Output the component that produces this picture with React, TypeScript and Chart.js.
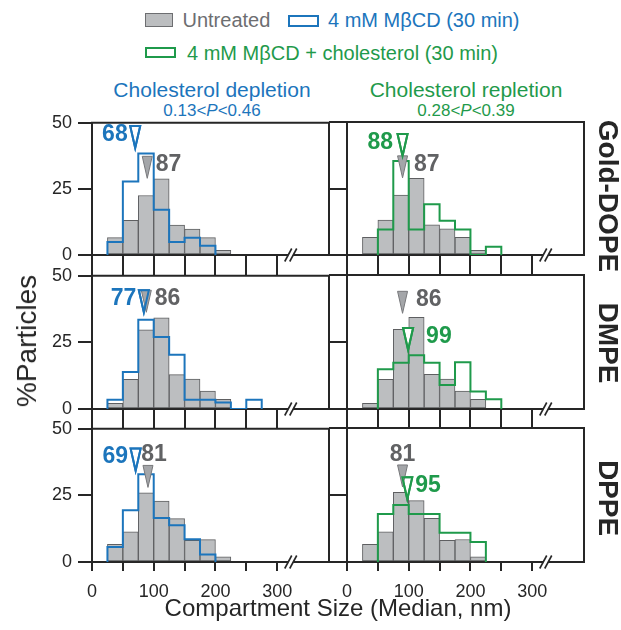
import React, { useEffect, useRef } from 'react';
import { Chart, registerables } from 'chart.js';

Chart.register(...registerables);

const FONT = "'Liberation Sans', Arial, Helvetica, sans-serif";
const AXIS = '#262626';
const GRAY_FILL = '#bcbec0';
const GRAY_EDGE = '#5e5f61';
const GRAY_TRI = '#a4a6a9';
const GRAY_TEXT = '#616264';
const BLUE = '#1c75bc';
const GREEN = '#1f9a4b';

// ---------- data ----------
const BIN = 25;
const binStarts = [25, 50, 75, 100, 125, 150, 175, 200, 225, 250];
const xTicks = [0, 50, 100, 150, 200, 250, 300];
const yTicks = [0, 25, 50];
const X_MAX = 384;
const BREAK_AT = 322;

const rowNames = ['Gold-DOPE', 'DMPE', 'DPPE'];
const colTitles = ['Cholesterol depletion', 'Cholesterol repletion'];
const colPLow = ['0.13', '0.28'];
const colPHigh = ['0.46', '0.39'];

// % particles per 25 nm bin (25-50, 50-75, ... 250-275)
const goldUntreated = [6.6, 13.1, 22.5, 28.8, 11.3, 9.8, 6.6, 1.8, 0, 0];
const goldDepleted = [4.9, 27.8, 38.4, 17.1, 4.9, 6.5, 3.5, 0, 0, 0];
const goldRepleted = [0, 9.6, 35.3, 9.6, 19.1, 12.9, 9.6, 0, 3.1, 0];

const dmpeUntreated = [2.1, 11.1, 29.7, 34.2, 12.9, 11.2, 6.7, 3.6, 0, 0];
const dmpeDepleted = [3.5, 13.9, 33.5, 27.0, 20.4, 3.5, 3.5, 2.4, 0, 3.5];
const dmpeRepleted = [0, 14.8, 17.3, 20.1, 17.3, 9.0, 17.4, 6.5, 3.6, 0];

const dppeUntreated = [6.6, 11.3, 26.0, 22.9, 16.3, 8.1, 8.4, 1.9, 0, 0];
const dppeDepleted = [5.6, 19.4, 32.9, 16.5, 13.8, 8.5, 2.8, 0, 0, 0];
const dppeRepleted = [0, 17.9, 21.3, 17.9, 17.9, 10.9, 10.9, 7.5, 0, 0];

// median values (nm) printed by the arrows
const medianUntreated = [87, 86, 81];
const medianDepleted = [68, 77, 69];
const medianRepleted = [88, 99, 95];

// arrow placement as drawn in the figure: [x (nm), tip height (%)]
const arrowUntreatedLeft = [[89.5, 29], [88, 36.3], [90.7, 28]];
const arrowUntreatedRight = [[90, 29], [90, 35.7], [90, 28]];
const arrowDepleted = [[70, 40.5], [84, 36.3], [70.7, 34.3]];
const arrowRepleted = [[90, 37.2], [99, 22], [97.7, 23.4]];

const untreatedRows = [goldUntreated, dmpeUntreated, dppeUntreated];
const depletedRows = [goldDepleted, dmpeDepleted, dppeDepleted];
const repletedRows = [goldRepleted, dmpeRepleted, dppeRepleted];

// label layout: [side, gap/dx] for [untreated, treated]
const labelLayoutLeft = [
  [['right', 3.5], ['left', 2.5]],
  [['right', 3.5], ['left', 2.5]],
  [['above', 6], ['left', 2.5]],
];
const labelLayoutRight = [
  [['right', 6.5], ['left', 4.5]],
  [['right', 8.5], ['right', 13]],
  [['above', 0], ['right', 3]],
];

// ---------- geometry ----------
const PAD_TOP = 16;
const ROWS = [
  { plotTop: 122, plotH: 133, axisH: 20, tickLen: 20 },
  { plotTop: 275, plotH: 134, axisH: 19, tickLen: 19 },
  { plotTop: 428, plotH: 134, axisH: 45, tickLen: 9 },
];
const COLS = [
  { left: 40, width: 300, yAxisW: 52, padRight: 11, yTickLen: 14 },
  { left: 327, width: 267, yAxisW: 20, padRight: 10, yTickLen: 18 },
];

function outline(vals: number[]) {
  let first = -1;
  let last = -1;
  vals.forEach((v, i) => {
    if (v > 0) {
      if (first < 0) first = i;
      last = i;
    }
  });
  const pts: { x: number; y: number }[] = [{ x: binStarts[first], y: 0 }];
  for (let i = first; i <= last; i++) pts.push({ x: binStarts[i], y: vals[i] });
  pts.push({ x: binStarts[last] + BIN, y: 0 });
  return pts;
}

const TRI_W = 10;
const TRI_H = 22;

function triPath(ctx: CanvasRenderingContext2D, x: number, tip: number) {
  ctx.beginPath();
  ctx.moveTo(x - TRI_W / 2, tip - TRI_H);
  ctx.lineTo(x + TRI_W / 2, tip - TRI_H);
  ctx.lineTo(x, tip);
  ctx.closePath();
}

function makeConfig(row: number, col: number): any {
  const R = ROWS[row];
  const C = COLS[col];
  const isBottom = row === 2;
  const gray = untreatedRows[row];
  const treated = col === 0 ? depletedRows[row] : repletedRows[row];
  const tColor = col === 0 ? BLUE : GREEN;
  const grayArrow = (col === 0 ? arrowUntreatedLeft : arrowUntreatedRight)[row];
  const tArrow = (col === 0 ? arrowDepleted : arrowRepleted)[row];
  const grayLabel = String(medianUntreated[row]);
  const tLabel = String((col === 0 ? medianDepleted : medianRepleted)[row]);
  const layout = (col === 0 ? labelLayoutLeft : labelLayoutRight)[row];

  const decor = {
    id: 'decor' + row + col,
    afterDraw(chart: any) {
      const { ctx, chartArea: a, scales } = chart;
      const xs = scales.x;
      const ys = scales.y;
      ctx.save();
      // top and right frame
      ctx.strokeStyle = AXIS;
      ctx.lineWidth = 2;
      ctx.beginPath();
      ctx.moveTo(a.left - 1, a.top);
      ctx.lineTo(a.right, a.top);
      ctx.lineTo(a.right, a.bottom + 1);
      ctx.stroke();
      // axis break
      const bx = xs.getPixelForValue(BREAK_AT);
      const by = a.bottom;
      ctx.fillStyle = '#ffffff';
      ctx.beginPath();
      ctx.moveTo(bx - 2.5 - 3.5, by + 6.5);
      ctx.lineTo(bx - 2.5 + 3.5, by - 6.5);
      ctx.lineTo(bx + 2.5 + 3.5, by - 6.5);
      ctx.lineTo(bx + 2.5 - 3.5, by + 6.5);
      ctx.closePath();
      ctx.fill();
      ctx.lineWidth = 1.6;
      for (const d of [-2.5, 2.5]) {
        ctx.beginPath();
        ctx.moveTo(bx + d - 3.5, by + 6.5);
        ctx.lineTo(bx + d + 3.5, by - 6.5);
        ctx.stroke();
      }
      // arrows
      const gx = xs.getPixelForValue(grayArrow[0]);
      const gy = ys.getPixelForValue(grayArrow[1]);
      const tx = xs.getPixelForValue(tArrow[0]);
      const ty = ys.getPixelForValue(tArrow[1]);
      ctx.lineJoin = 'miter';
      triPath(ctx, tx, ty);
      ctx.fillStyle = '#ffffff';
      ctx.fill();
      ctx.strokeStyle = tColor;
      ctx.lineWidth = 2;
      ctx.stroke();
      triPath(ctx, gx, gy);
      ctx.fillStyle = GRAY_TRI;
      ctx.fill();
      ctx.strokeStyle = '#77787b';
      ctx.lineWidth = 1;
      ctx.stroke();
      triPath(ctx, tx, ty);
      ctx.strokeStyle = tColor;
      ctx.lineWidth = 2;
      ctx.stroke();
      // labels
      ctx.font = `bold 23px ${FONT}`;
      const put = (txt: string, color: string, x: number, tip: number, lay: any) => {
        const [side, gap] = lay;
        ctx.fillStyle = color;
        if (side === 'above') {
          ctx.textAlign = 'center';
          ctx.textBaseline = 'alphabetic';
          ctx.fillText(txt, x + gap, tip - TRI_H - 4);
        } else {
          ctx.textBaseline = 'middle';
          const cy = tip - TRI_H / 2 - 2.5;
          if (side === 'left') {
            ctx.textAlign = 'right';
            ctx.fillText(txt, x - TRI_W / 2 - gap, cy);
          } else {
            ctx.textAlign = 'left';
            ctx.fillText(txt, x + TRI_W / 2 + gap, cy);
          }
        }
      };
      put(grayLabel, GRAY_TEXT, gx, gy, layout[0]);
      put(tLabel, tColor, tx, ty, layout[1]);
      ctx.restore();
    },
  };

  return {
    type: 'bar',
    data: {
      datasets: [
        {
          type: 'line',
          data: outline(treated),
          borderColor: tColor,
          borderWidth: 2,
          pointRadius: 0,
          stepped: 'before',
          fill: false,
          tension: 0,
          order: 0,
        },
        {
          type: 'bar',
          data: gray
            .map((v, i) => ({ x: binStarts[i] + BIN / 2, y: v }))
            .filter((p) => p.y > 0),
          backgroundColor: GRAY_FILL,
          borderColor: GRAY_EDGE,
          borderWidth: 1,
          borderSkipped: false,
          barPercentage: 1,
          categoryPercentage: 1,
          order: 1,
        },
      ],
    },
    options: {
      animation: false,
      responsive: false,
      devicePixelRatio: 1,
      events: [],
      layout: { padding: { top: PAD_TOP, right: C.padRight, left: 0, bottom: 0 } },
      plugins: { legend: { display: false }, tooltip: { enabled: false } },
      scales: {
        x: {
          type: 'linear',
          min: 0,
          max: X_MAX,
          offset: false,
          z: 1,
          afterBuildTicks: (s: any) => {
            s.ticks = xTicks.map((v) => ({ value: v }));
          },
          afterFit: (s: any) => {
            s.height = R.axisH;
          },
          ticks: {
            display: isBottom,
            autoSkip: false,
            maxRotation: 0,
            padding: 10,
            color: AXIS,
            font: { family: FONT, size: 18 },
            callback: (v: number) => (v % 100 === 0 ? String(v) : ''),
          },
          grid: {
            offset: false,
            drawOnChartArea: false,
            drawTicks: true,
            tickLength: R.tickLen,
            color: AXIS,
            lineWidth: 2,
          },
          border: { display: true, color: AXIS, width: 2 },
        },
        y: {
          min: 0,
          max: 50,
          z: 1,
          afterBuildTicks: (s: any) => {
            s.ticks = yTicks.map((v) => ({ value: v }));
          },
          afterFit: (s: any) => {
            s.width = C.yAxisW;
          },
          ticks: {
            display: col === 0,
            padding: 6,
            color: AXIS,
            font: { family: FONT, size: 18 },
          },
          grid: {
            drawOnChartArea: false,
            drawTicks: true,
            tickLength: C.yTickLen,
            color: AXIS,
            lineWidth: 2,
          },
          border: { display: true, color: AXIS, width: 2 },
        },
      },
    },
    plugins: [decor],
  };
}

function Panel({ row, col }: { row: number; col: number }) {
  const ref = useRef<HTMLCanvasElement>(null);
  const R = ROWS[row];
  const C = COLS[col];
  const top = R.plotTop - PAD_TOP;
  const h = PAD_TOP + R.plotH + R.axisH;
  useEffect(() => {
    const chart = new Chart(ref.current as HTMLCanvasElement, makeConfig(row, col));
    return () => chart.destroy();
  }, [row, col]);
  return (
    <canvas
      ref={ref}
      width={C.width}
      height={h}
      style={{ position: 'absolute', left: C.left, top, width: C.width, height: h }}
    />
  );
}

// text positioned by its baseline
function Txt({ x, base, size, color, children, anchor = 'left', bold = false }: any) {
  const top = base - 0.8465 * size;
  return (
    <div
      style={{
        position: 'absolute',
        left: x,
        top,
        fontSize: size,
        lineHeight: size + 'px',
        color,
        whiteSpace: 'nowrap',
        fontFamily: FONT,
        fontWeight: bold ? 'bold' : 'normal',
        transform: anchor === 'center' ? 'translateX(-50%)' : undefined,
      }}
    >
      {children}
    </div>
  );
}

function Rot({ cx, cy, size, deg, children, bold = false, color = AXIS }: any) {
  return (
    <div
      style={{
        position: 'absolute',
        left: cx,
        top: cy,
        fontSize: size,
        lineHeight: size + 'px',
        fontFamily: FONT,
        fontWeight: bold ? 'bold' : 'normal',
        color,
        whiteSpace: 'nowrap',
        transform: `translate(-50%, -50%) rotate(${deg}deg)`,
      }}
    >
      {children}
    </div>
  );
}

function Box({ x, y, w, h, fill, stroke, bw }: any) {
  return (
    <div
      style={{
        position: 'absolute',
        left: x,
        top: y,
        width: w,
        height: h,
        boxSizing: 'border-box',
        background: fill,
        border: `${bw}px solid ${stroke}`,
      }}
    />
  );
}

export default function App() {
  const colCenters = [212, 466];
  const rowCenters = [196, 342.5, 498];
  return (
    <div
      style={{
        position: 'absolute',
        left: 0,
        top: 0,
        width: 621,
        height: 630,
        background: '#ffffff',
        overflow: 'hidden',
        fontFamily: FONT,
      }}
    >
      {/* legend */}
      <Box x={145} y={13} w={28} h={14} fill={GRAY_FILL} stroke="#6d6e71" bw={1.5} />
      <Txt x={182.5} base={26.7} size={20} color="#6d6e71">Untreated</Txt>
      <Box x={288} y={15} w={31} h={12} fill="#fff" stroke={BLUE} bw={2} />
      <Txt x={328} base={26.7} size={20} color={BLUE}>4 mM MβCD (30 min)</Txt>
      <Box x={145} y={46.5} w={31} h={11} fill="#fff" stroke={GREEN} bw={2} />
      <Txt x={187} base={60} size={20} color={GREEN}>4 mM MβCD + cholesterol (30 min)</Txt>

      {/* column titles */}
      {colTitles.map((t, i) => (
        <React.Fragment key={t}>
          <Txt x={colCenters[i]} base={96.7} size={21} color={i === 0 ? BLUE : GREEN} anchor="center">
            {t}
          </Txt>
          <Txt x={colCenters[i]} base={116} size={17} color={i === 0 ? BLUE : GREEN} anchor="center">
            {colPLow[i]}&lt;<i>P</i>&lt;{colPHigh[i]}
          </Txt>
        </React.Fragment>
      ))}

      {/* panels */}
      {[0, 1, 2].map((r) =>
        [0, 1].map((c) => <Panel key={`${r}-${c}`} row={r} col={c} />)
      )}

      {/* row labels */}
      {rowNames.map((n, i) => (
        <Rot key={n} cx={607.5} cy={rowCenters[i]} size={28} deg={90} bold>
          {n}
        </Rot>
      ))}

      {/* axis titles */}
      <Rot cx={27} cy={341} size={28} deg={-90}>
        %Particles
      </Rot>
      <Txt x={338} base={616} size={24} color={AXIS} anchor="center">
        Compartment Size (Median, nm)
      </Txt>
    </div>
  );
}
